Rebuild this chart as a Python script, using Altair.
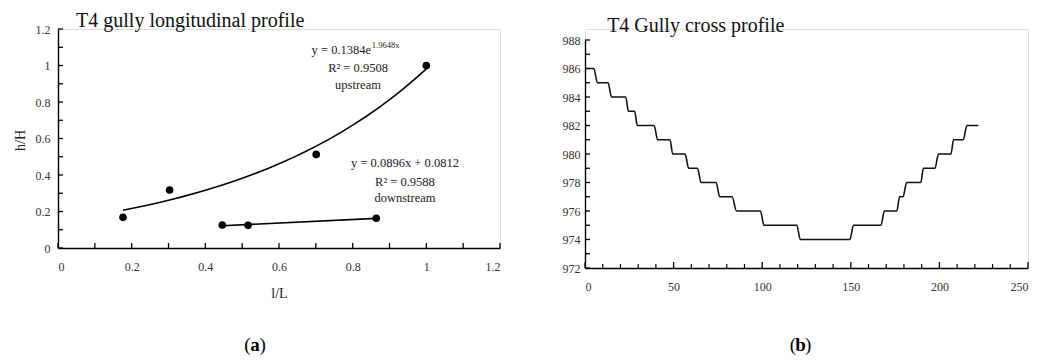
import altair as alt
import pandas as pd

FONT = "Liberation Serif"

# ---------- Panel (a): longitudinal profile ----------
up_x = [0.1765, 0.303, 0.701, 1.0]
up_y = [0.168, 0.318, 0.513, 1.0]
down_x = [0.446, 0.516, 0.864]
down_y = [0.126, 0.124, 0.163]

a_ticks = [0.0, 0.1, 0.2, 0.3, 0.4, 0.5, 0.6, 0.7, 0.8, 0.9, 1.0, 1.1, 1.2]
a_labels = [0.0, 0.2, 0.4, 0.6, 0.8, 1.0, 1.2]

ann_text = ["y = 0.1384e", "1.9648x", "R² = 0.9508", "upstream",
            "y = 0.0896x + 0.0812", "R² = 0.9588", "downstream"]
ann_x = [0.850, 0.852, 0.8145, 0.8145, 0.942, 0.942, 0.942]
ann_y = [1.063, 1.096, 0.964, 0.871, 0.444, 0.340, 0.252]
ann_size = [12.5, 8.5, 12.5, 12.5, 12.5, 12.5, 12.5]
ann_align = ["right", "left", "center", "center", "center", "center", "center"]

title_a = "T4 gully longitudinal profile"
title_a_pos = (0.049, 1.211)

# ---------- Panel (b): cross profile ----------
cross_dist = [0, 5, 7, 13, 15, 23, 24.5, 28, 29.5, 39, 41, 48, 49.5, 56.5,
              58.5, 63.5, 65.5, 74, 76, 83, 85.5, 99, 101, 119.5, 121.5, 149.5,
              151.5, 167, 169, 176, 177.5, 179.5, 181.5, 189.5, 191, 197.5,
              199.5, 206.5, 208, 213.5, 215.5, 222]
cross_elev = [986, 986, 985, 985, 984, 984, 983, 983, 982, 982, 981, 981, 980, 980,
              979, 979, 978, 978, 977, 977, 976, 976, 975, 975, 974, 974,
              975, 975, 976, 976, 977, 977, 978, 978, 979, 979,
              980, 980, 981, 981, 982, 982]

b_xticks_major = [0, 50, 100, 150, 200, 250]
b_xticks_minor = [10, 20, 30, 40, 60, 70, 80, 90, 110, 120, 130, 140,
                  160, 170, 180, 190, 210, 220, 230, 240]
b_yticks = [972, 973, 974, 975, 976, 977, 978, 979, 980, 981, 982, 983,
            984, 985, 986, 987, 988]
b_labels = [972, 974, 976, 978, 980, 982, 984, 986, 988]

title_b = "T4 Gully cross profile"
title_b_pos = (12.5, 988.56)

captions = ["a", "b"]
cap_pos_a = (0.535, -0.53)
cap_pos_b = (121.6, 966.6)

# ---------- helpers ----------
AW, AH = 442, 219
BW, BH, BGAP = 443, 228, 11
BHT = BH + BGAP


def axis_common(**kw):
    base = dict(grid=False, ticks=False, tickSize=0, domainColor="black",
                domainWidth=1.4, labelFont=FONT, labelFontSize=12,
                labelColor="#333", titleFont=FONT, titleFontSize=14,
                titleFontWeight="normal", titleColor="#222")
    base.update(kw)
    return alt.Axis(**base)


a_xaxis = axis_common(values=a_labels, format="~g", labelPadding=13,
                      title="l/L", titleY=45, titleBaseline="middle")
a_yaxis = axis_common(values=a_labels, format="~g", labelPadding=8,
                      title="h/H", titleX=-38, titleY=111, titleAngle=-90,
                      titleBaseline="middle", titleAlign="center")
a_xscale = alt.Scale(domain=[0, 1.2], nice=False, zero=False)
a_yscale = alt.Scale(domain=[0, 1.2], nice=False, zero=False)


def ax(field):
    return alt.X(field, type="quantitative", scale=a_xscale, axis=a_xaxis)


def ay(field):
    return alt.Y(field, type="quantitative", scale=a_yscale, axis=a_yaxis)


def text_layer(chart_x, chart_y, text, xpos, ypos, size, align, weight="normal",
               baseline="alphabetic", dx=0, color="#222"):
    df = pd.DataFrame({"x": [xpos], "y": [ypos], "t": [text]})
    return alt.Chart(df).mark_text(
        font=FONT, fontSize=size, align=align, baseline=baseline,
        fontWeight=weight, dx=dx, color=color).encode(
        x=chart_x("x"), y=chart_y("y"), text="t:N")


def caption(chart_x, chart_y, letter, xpos, ypos):
    return [
        text_layer(chart_x, chart_y, "(", xpos, ypos, 19, "right", dx=-4.5,
                   baseline="middle", color="black"),
        text_layer(chart_x, chart_y, letter, xpos, ypos, 19, "center",
                   weight="bold", baseline="middle", color="black"),
        text_layer(chart_x, chart_y, ")", xpos, ypos, 19, "left", dx=4.5,
                   baseline="middle", color="black"),
    ]


up_df = pd.DataFrame({"x": up_x, "y": up_y})
down_df = pd.DataFrame({"x": down_x, "y": down_y})
pts_df = pd.concat([up_df, down_df], ignore_index=True)
a_tick_df = pd.DataFrame({"t": a_ticks})

a_points = alt.Chart(pts_df).mark_circle(size=58, color="black", opacity=1).encode(
    x=ax("x"), y=ay("y"))
a_up = alt.Chart(up_df).transform_regression("x", "y", method="exp").mark_line(
    color="black", strokeWidth=1.6).encode(x=ax("x"), y=ay("y"))
a_down = alt.Chart(down_df).transform_regression("x", "y", method="linear").mark_line(
    color="black", strokeWidth=1.6).encode(x=ax("x"), y=ay("y"))
a_xt = alt.Chart(a_tick_df).mark_rule(color="black", strokeWidth=1.3).encode(
    x=ax("t"), y=alt.value(AH), y2=alt.value(AH - 5))
a_yt = alt.Chart(a_tick_df).mark_rule(color="black", strokeWidth=1.3).encode(
    y=ay("t"), x=alt.value(0), x2=alt.value(5))

a_ann = [text_layer(ax, ay, ann_text[i], ann_x[i], ann_y[i], ann_size[i], ann_align[i])
         for i in range(len(ann_text))]
a_title = text_layer(ax, ay, title_a, title_a_pos[0], title_a_pos[1], 20, "left",
                     color="#111")

left = alt.layer(a_xt, a_yt, a_up, a_down, a_points, *a_ann, a_title,
                 *caption(ax, ay, captions[0], *cap_pos_a)).properties(
    width=AW, height=AH)

# ---------- right panel ----------
b_xaxis = axis_common(values=b_xticks_major, format="d", labelPadding=13, title=None)
b_yaxis = axis_common(values=b_labels, format="d", labelPadding=5, title=None)
b_xscale = alt.Scale(domain=[0, 250], nice=False, zero=False)
b_yscale = alt.Scale(domain=[972, 988], nice=False, zero=False, range=[BHT, BGAP])


def bx(field):
    return alt.X(field, type="quantitative", scale=b_xscale, axis=b_xaxis)


def by(field):
    return alt.Y(field, type="quantitative", scale=b_yscale, axis=b_yaxis)


cross_df = pd.DataFrame({"d": cross_dist, "e": cross_elev})
b_line = alt.Chart(cross_df).mark_line(color="#111", strokeWidth=1.6,
                                       interpolate="monotone").encode(
    x=bx("d"), y=by("e"))
b_xt_major = alt.Chart(pd.DataFrame({"t": b_xticks_major})).mark_rule(
    color="black", strokeWidth=1.3).encode(x=bx("t"), y=alt.value(BHT), y2=alt.value(BHT - 6))
b_xt_minor = alt.Chart(pd.DataFrame({"t": b_xticks_minor})).mark_rule(
    color="black", strokeWidth=1.2).encode(x=bx("t"), y=alt.value(BHT), y2=alt.value(BHT - 4))
b_yt = alt.Chart(pd.DataFrame({"t": b_yticks})).mark_rule(
    color="black", strokeWidth=1.3).encode(y=by("t"), x=alt.value(0), x2=alt.value(5))
b_title = text_layer(bx, by, title_b, title_b_pos[0], title_b_pos[1], 20, "left",
                     color="#111")

right = alt.layer(b_xt_major, b_xt_minor, b_yt, b_line, b_title,
                  *caption(bx, by, captions[1], *cap_pos_b)).properties(
    width=BW, height=BHT)

chart = alt.hconcat(left, right, spacing=59).properties(
    padding={"left": 12, "top": 10, "right": 5, "bottom": 2}
).configure_view(stroke=None).configure(background="white")

chart.save("out.html", embed_options={"renderer": "svg", "actions": False})
